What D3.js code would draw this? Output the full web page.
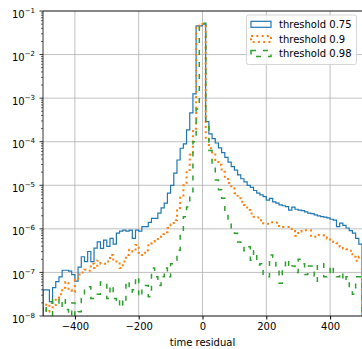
<!DOCTYPE html>
<html>
<head>
<meta charset="utf-8">
<script src="https://cdn.jsdelivr.net/npm/d3@7"></script>
<style>
  body { margin: 0; background: #fff; }
  text { font-family: "DejaVu Sans", sans-serif; fill: #000; }
</style>
</head>
<body>
<div class="chart"></div>
<script>
// bin edges of the histograms (time residual)
const binEdges = d3.range(-500, 501, 10)

// log10 of the normalised counts per bin
const thr075 = [
  -7.40, -7.40, -7.67, -7.35, -7.21, -7.10, -6.95, -6.95, -6.97, -7.05,
  -7.20, -6.88, -6.64, -6.75, -6.52, -6.75, -6.44, -6.30, -6.45, -6.26,
  -6.40, -6.22, -6.35, -6.10, -6.05, -6.03, -6.05, -6.03, -6.22, -6.03,
  -6.05, -5.95, -5.95, -5.85, -5.76, -5.76, -5.64, -5.52, -5.41, -5.18,
  -5.00, -4.72, -4.42, -4.15, -4.05, -3.73, -3.34, -2.90, -1.34, -1.34,
  -1.30, -3.54, -3.82, -3.93, -4.03, -4.14, -4.25, -4.36, -4.47, -4.57,
  -4.65, -4.76, -4.85, -4.92, -5.00, -5.05, -5.12, -5.18, -5.22, -5.26,
  -5.34, -5.30, -5.38, -5.41, -5.45, -5.47, -5.49, -5.57, -5.50, -5.55,
  -5.57, -5.58, -5.61, -5.64, -5.65, -5.68, -5.70, -5.72, -5.73, -5.75,
  -5.78, -5.80, -5.95, -5.87, -5.92, -5.98, -6.04, -6.10, -6.22, -6.35
]
const thr09 = [
  -7.70, -7.90, -7.70, -7.80, -7.60, -7.50, -7.35, -7.22, -7.40, -7.45,
  -7.17, -7.05, -7.00, -6.94, -6.96, -6.80, -6.90, -6.73, -6.80, -6.80,
  -6.75, -6.60, -6.75, -6.75, -6.90, -6.75, -6.60, -6.48, -6.52, -6.37,
  -6.55, -6.60, -6.49, -6.35, -6.29, -6.28, -6.18, -6.12, -6.08, -5.98,
  -5.90, -5.80, -5.52, -5.26, -5.00, -4.65, -4.30, -3.70, -1.36, -1.33,
  -1.30, -3.95, -4.15, -4.27, -4.42, -4.53, -4.69, -4.83, -4.95, -5.07,
  -5.18, -5.30, -5.38, -5.45, -5.57, -5.65, -5.72, -5.74, -5.80, -5.87,
  -5.88, -5.85, -5.85, -5.86, -5.96, -5.96, -5.96, -6.00, -6.05, -6.16,
  -6.06, -6.05, -6.03, -6.03, -6.16, -6.18, -6.14, -6.14, -6.20, -6.22,
  -6.27, -6.30, -6.33, -6.41, -6.45, -6.47, -6.50, -6.64, -6.73, -6.64
]
const thr098 = [
  -7.75, -8.10, -8.00, -7.62, -7.60, -7.80, -7.60, -7.85, -8.00, -7.70,
  -8.00, -7.90, -7.60, -7.33, -7.33, -7.60, -7.60, -7.50, -7.22, -7.25,
  -7.60, -7.30, -7.60, -7.75, -7.60, -7.75, -7.20, -7.45, -7.40, -7.10,
  -7.56, -7.30, -7.30, -7.56, -6.90, -7.10, -7.30, -7.10, -6.90, -7.10,
  -6.80, -6.72, -6.49, -6.10, -5.72, -5.50, -5.15, -4.00, -3.25, -1.36,
  -1.28, -3.60, -4.20, -4.57, -4.88, -5.10, -5.30, -5.60, -5.85, -6.07,
  -6.10, -6.30, -6.33, -6.50, -6.41, -6.72, -6.50, -6.83, -6.80, -7.10,
  -7.10, -6.60, -6.70, -6.90, -7.25, -6.90, -6.70, -6.90, -6.85, -7.00,
  -6.70, -6.80, -7.05, -6.85, -6.85, -7.20, -6.80, -6.80, -7.10, -7.00,
  -6.85, -7.00, -7.10, -7.00, -7.20, -7.10, -7.45, -7.50, -7.10, -7.10
]

const labels = ['threshold 0.75', 'threshold 0.9', 'threshold 0.98']
const seriesLog = [thr075, thr09, thr098]
const colors = ['#1f77b4', '#ff7f0e', '#2ca02c']
const dashes = [null, '2,3.3', '5,7']
const widths = [1.2, 2, 1.5]
const xTicks = [-400, -200, 0, 200, 400]
const yExponents = [-8, -7, -6, -5, -4, -3, -2, -1]

const W = 362, H = 349
const margin = {top: 11, right: 0, bottom: 33, left: 43}
const width = W - margin.left - margin.right
const height = H - margin.top - margin.bottom

const svg = d3.select('.chart').append('svg')
  .attr('width', W).attr('height', H)

const g = svg.append('g')
  .attr('transform', `translate(${margin.left},${margin.top})`)

const x = d3.scaleLinear().domain([-500, 500]).range([0, width])
const y = d3.scaleLog().domain([1e-8, 1e-1]).range([height, 0])

svg.append('defs').append('clipPath').attr('id', 'clip')
  .append('rect').attr('width', width).attr('height', height)

// grid
g.append('g').selectAll('line').data(xTicks).join('line')
  .attr('x1', d => x(d)).attr('x2', d => x(d))
  .attr('y1', 0).attr('y2', height)
  .attr('stroke', '#b0b0b0').attr('stroke-width', 0.8)
g.append('g').selectAll('line').data(yExponents).join('line')
  .attr('x1', 0).attr('x2', width)
  .attr('y1', d => y(Math.pow(10, d))).attr('y2', d => y(Math.pow(10, d)))
  .attr('stroke', '#b0b0b0').attr('stroke-width', 0.8)

// histogram steps
const line = d3.line()
  .x(d => x(d[0]))
  .y(d => d[1] === null ? height + 20 : y(d[1]))
  .curve(d3.curveStepAfter)

seriesLog.forEach((s, i) => {
  const pts = [[binEdges[0], null]]
  s.forEach((v, j) => pts.push([binEdges[j], Math.pow(10, v)]))
  pts.push([binEdges[binEdges.length - 1], Math.pow(10, s[s.length - 1])])
  pts.push([binEdges[binEdges.length - 1], null])
  g.append('path')
    .attr('clip-path', 'url(#clip)')
    .attr('fill', 'none')
    .attr('stroke', colors[i])
    .attr('stroke-width', widths[i])
    .attr('stroke-dasharray', dashes[i])
    .attr('d', line(pts))
})

// axes
const xAxis = g.append('g')
  .attr('transform', `translate(0,${height})`)
  .call(d3.axisBottom(x).tickValues(xTicks).tickSize(3.5).tickPadding(3)
    .tickFormat(d => d3.format('d')(d).replace('-', '\u2212')))
xAxis.select('.domain').remove()
xAxis.selectAll('text').style('font-size', '10px').attr('font-family', 'DejaVu Sans')

const minorTicks = []
yExponents.slice(0, -1).forEach(e => {
  for (let k = 2; k <= 9; k++) minorTicks.push(k * Math.pow(10, e))
})
g.append('g').selectAll('line').data(minorTicks).join('line')
  .attr('x1', -2).attr('x2', 0)
  .attr('y1', d => y(d)).attr('y2', d => y(d))
  .attr('stroke', '#000').attr('stroke-width', 0.6)
g.append('g').selectAll('line').data(yExponents).join('line')
  .attr('x1', -3.5).attr('x2', 0)
  .attr('y1', d => y(Math.pow(10, d))).attr('y2', d => y(Math.pow(10, d)))
  .attr('stroke', '#000').attr('stroke-width', 0.8)

const yLab = g.append('g').selectAll('text').data(yExponents).join('text')
  .attr('x', -8).attr('y', d => y(Math.pow(10, d)) + 6.5)
  .attr('text-anchor', 'end')
  .style('font-size', '10px')
yLab.append('tspan').text('10')
yLab.append('tspan').attr('dy', -5).style('font-size', '7px')
  .text(d => '\u2212' + Math.abs(d))

// spines
g.append('line').attr('x1', 0).attr('x2', 0).attr('y1', 0).attr('y2', height)
  .attr('stroke', '#000').attr('stroke-width', 0.8)
g.append('line').attr('x1', 0).attr('x2', width).attr('y1', height).attr('y2', height)
  .attr('stroke', '#000').attr('stroke-width', 0.8)
g.append('line').attr('x1', 0).attr('x2', width).attr('y1', 0).attr('y2', 0)
  .attr('stroke', '#000').attr('stroke-width', 0.8)

svg.append('text')
  .attr('x', margin.left + width / 2).attr('y', 346)
  .attr('text-anchor', 'middle')
  .style('font-size', '10px')
  .text('time residual')

// legend
const legend = svg.append('g').attr('transform', 'translate(246.5,15)')
legend.append('rect')
  .attr('width', 110).attr('height', 49.5).attr('rx', 2)
  .attr('fill', '#fff').attr('fill-opacity', 0.8)
  .attr('stroke', '#cccccc').attr('stroke-width', 0.8)
const item = legend.selectAll('.item').data(labels).join('g')
  .attr('class', 'item')
  .attr('transform', (d, i) => `translate(0,${9.3 + i * 14.6})`)
item.append('rect')
  .attr('x', 4.5).attr('y', -3).attr('width', 20).attr('height', 6)
  .attr('fill', 'none')
  .attr('stroke', (d, i) => colors[i])
  .attr('stroke-width', (d, i) => widths[i])
  .attr('stroke-dasharray', (d, i) => dashes[i])
item.append('text')
  .attr('x', 32.5).attr('y', 3.6)
  .style('font-size', '10px')
  .text(d => d)
</script>
</body>
</html>
